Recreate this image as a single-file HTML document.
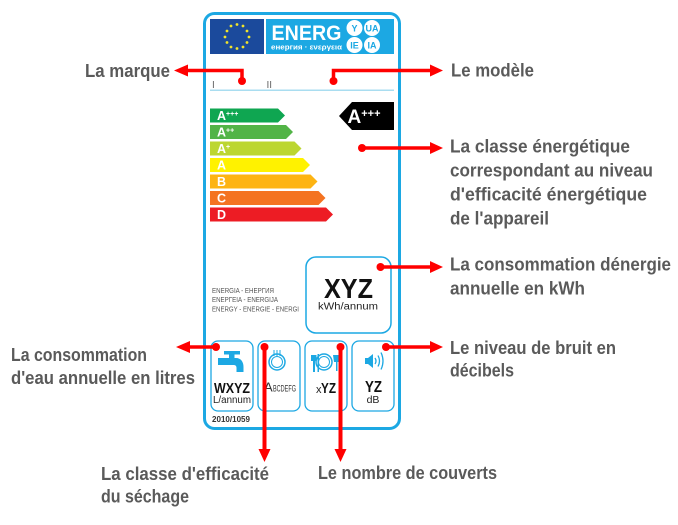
<!DOCTYPE html>
<html><head><meta charset="utf-8"><style>
html,body{margin:0;padding:0;background:#fff}svg{display:block}
.l{font-family:"Liberation Sans",sans-serif;font-weight:bold;font-size:18px;fill:#5a5a5a}
.s{font-family:"Liberation Sans",sans-serif}
</style></head><body>
<svg width="678" height="525" viewBox="0 0 678 525" xmlns="http://www.w3.org/2000/svg">
<rect x="204.5" y="13.5" width="195" height="415" rx="10" fill="#fff" stroke="#1CA8E3" stroke-width="3"/>
<rect x="210" y="19" width="54" height="35" fill="#1B4A9C"/>
<g fill="#F2E52A"><circle cx="237" cy="24.500" r="1.400"/><circle cx="243" cy="26" r="1.400"/><circle cx="247" cy="31" r="1.400"/><circle cx="249" cy="37" r="1.400"/><circle cx="247" cy="42.500" r="1.400"/><circle cx="243" cy="47" r="1.400"/><circle cx="237" cy="48.500" r="1.400"/><circle cx="231" cy="47" r="1.400"/><circle cx="227" cy="42.500" r="1.400"/><circle cx="225" cy="37" r="1.400"/><circle cx="227" cy="31" r="1.400"/><circle cx="231" cy="26" r="1.400"/></g>
<rect x="266" y="19" width="128" height="35" fill="#1CA8E3"/>
<text class="s" x="271.500" y="40" font-size="21" font-weight="bold" fill="#fff" textLength="70" lengthAdjust="spacingAndGlyphs">ENERG</text>
<text class="s" x="271" y="49.500" font-size="7" font-weight="bold" fill="#fff" textLength="71" lengthAdjust="spacingAndGlyphs">енергия · ενεργεια</text>
<g fill="#fff"><circle cx="354.500" cy="28" r="8"/><circle cx="372" cy="28" r="8"/><circle cx="354.500" cy="45" r="8"/><circle cx="372" cy="45" r="8"/></g>
<g class="s" font-size="9" font-weight="bold" fill="#1CA8E3" text-anchor="middle"><text x="354.500" y="31.500">Y</text><text x="372" y="31.500">UA</text><text x="354.500" y="48.500">IE</text><text x="372" y="48.500">IA</text></g>
<text class="s" x="212" y="88" font-size="10" fill="#666">I</text><text class="s" x="266.500" y="88" font-size="10" fill="#666">II</text>
<rect x="210" y="89.500" width="184" height="1.500" fill="#A9DDF0"/>
<g class="s" font-weight="bold" font-size="12.500" fill="#fff">
<polygon points="210,108.500 278,108.500 285,115.500 278,122.500 210,122.500" fill="#0FA651"/>
<polygon points="210,125 286,125 293,132 286,139 210,139" fill="#52B447"/>
<polygon points="210,141.500 294.500,141.500 301.500,148.500 294.500,155.500 210,155.500" fill="#BCD631"/>
<polygon points="210,158 303,158 310,165 303,172 210,172" fill="#FFF200"/>
<polygon points="210,174.500 310.500,174.500 317.500,181.500 310.500,188.500 210,188.500" fill="#FDB413"/>
<polygon points="210,191 318.500,191 325.500,198 318.500,205 210,205" fill="#F47321"/>
<polygon points="210,207.500 326,207.500 333,214.500 326,221.500 210,221.500" fill="#ED1C24"/>
<text x="217" y="120">A<tspan font-size="7" dy="-4">+++</tspan></text>
<text x="217" y="136.500">A<tspan font-size="7" dy="-4">++</tspan></text>
<text x="217" y="153">A<tspan font-size="7" dy="-4">+</tspan></text>
<text x="217" y="169.500">A</text><text x="217" y="186">B</text><text x="217" y="202.500">C</text><text x="217" y="219">D</text>
</g>
<polygon points="339,116 352,102 394,102 394,130 352,130" fill="#000"/>
<text class="s" x="347.500" y="123" font-size="19" font-weight="bold" fill="#fff">A<tspan font-size="11" dy="-6">+++</tspan></text>
<rect x="306" y="257" width="85" height="76" rx="10" fill="#fff" stroke="#1CA8E3" stroke-width="1.500"/>
<text class="s" x="348.500" y="298" font-size="28" font-weight="bold" text-anchor="middle" fill="#111" textLength="49" lengthAdjust="spacingAndGlyphs">XYZ</text>
<text class="s" x="348" y="309.500" font-size="10" text-anchor="middle" fill="#222" textLength="60" lengthAdjust="spacingAndGlyphs">kWh/annum</text>
<g class="s" font-size="7.500" fill="#555"><text x="212" y="293" textLength="62" lengthAdjust="spacingAndGlyphs">ENERGIA - ЕНЕРГИЯ</text><text x="212" y="302" textLength="66" lengthAdjust="spacingAndGlyphs">ΕΝΕΡΓΕΙΑ - ENERGIJA</text><text x="212" y="311.500" textLength="87" lengthAdjust="spacingAndGlyphs">ENERGY - ENERGIE - ENERGI</text></g>
<g fill="#fff" stroke="#1CA8E3" stroke-width="1.300"><rect x="211" y="341" width="42" height="70" rx="7"/><rect x="258" y="341" width="42" height="70" rx="7"/><rect x="305" y="341" width="42" height="70" rx="7"/><rect x="352" y="341" width="42" height="70" rx="7"/></g>
<g fill="#1CA8E3"><rect x="224" y="351" width="16" height="3.500"/><rect x="229" y="354" width="5.500" height="5"/><path d="M218 358h18c5 0 7.500 4 7.500 9v5h-7v-4c0-2-1-3-3-3h-15.500z"/></g>
<text class="s" x="232" y="393" font-size="14.500" font-weight="bold" text-anchor="middle" fill="#111" textLength="36" lengthAdjust="spacingAndGlyphs">WXYZ</text>
<text class="s" x="232" y="403" font-size="10" text-anchor="middle" fill="#222" textLength="38" lengthAdjust="spacingAndGlyphs">L/annum</text>
<circle cx="277" cy="362" r="8" fill="none" stroke="#1CA8E3" stroke-width="1.500"/><circle cx="277" cy="362" r="5.500" fill="none" stroke="#1CA8E3"/>
<path d="M274 356v-6M277 356v-6M280 356v-6" stroke="#1CA8E3"/>
<text class="s" x="264" y="391.500" font-size="13" fill="#333">A</text><text class="s" x="273" y="391.500" font-size="9" fill="#333" textLength="23" lengthAdjust="spacingAndGlyphs">BCDEFG</text>
<g fill="none" stroke="#1CA8E3"><circle cx="324" cy="362" r="8" stroke-width="1.500"/><circle cx="324" cy="362" r="5.500"/></g>
<g fill="#1CA8E3"><rect x="311" y="355" width="5.500" height="6"/><rect x="313" y="355" width="2" height="17"/><rect x="317.500" y="354" width="1.500" height="18"/><path d="M333 355h8l-1.500 7h-2v9h-1.500v-9h-2z"/></g>
<text class="s" x="316" y="393" font-size="11" fill="#222">x</text><text class="s" x="321" y="393" font-size="15" font-weight="bold" fill="#111" textLength="15" lengthAdjust="spacingAndGlyphs">YZ</text>
<path d="M365 358h3l5-4v14l-5-4h-3z" fill="#1CA8E3"/><path d="M375 358q2 3 0 6M378 355.500q3 5.500 0 11M381 352.500q4 8.500 0 17" fill="none" stroke="#1CA8E3" stroke-width="1.300"/>
<text class="s" x="373.500" y="392" font-size="16" font-weight="bold" text-anchor="middle" fill="#111" textLength="17" lengthAdjust="spacingAndGlyphs">YZ</text>
<text class="s" x="373" y="403" font-size="10.500" text-anchor="middle" fill="#222">dB</text>
<text class="s" x="212" y="422" font-size="8" font-weight="bold" fill="#333" textLength="38" lengthAdjust="spacingAndGlyphs">2010/1059</text>
<g fill="none" stroke="#f00" stroke-width="3.500">
<path d="M184 70.500H242V81"/><path d="M333.500 81V70.500H432"/><path d="M362 148H432"/><path d="M380.500 267H432"/>
<path d="M188 347H216"/><path d="M386 347H432"/>
</g>
<g fill="none" stroke="#f00" stroke-width="4"><path d="M264.500 347V451"/><path d="M340.500 347V451"/></g>
<g fill="#f00">
<circle cx="242" cy="81" r="4"/><circle cx="333.500" cy="81" r="4"/><circle cx="362" cy="148" r="4"/><circle cx="380.500" cy="267" r="4"/><circle cx="216" cy="347" r="4"/><circle cx="264.500" cy="347" r="4"/><circle cx="340.500" cy="347" r="4"/><circle cx="386" cy="347" r="4"/>
<polygon points="174,70.500 188,64.500 188,76.500"/><polygon points="443,70.500 430,64.500 430,76.500"/><polygon points="443,148 430,142 430,154"/><polygon points="443,267 430,261 430,273"/><polygon points="176,347 190,341 190,353"/><polygon points="443,347 430,341 430,353"/><polygon points="264.500,462 258.500,449 270.500,449"/><polygon points="340.500,462 334.500,449 346.500,449"/>
</g>
<text class="l" x="85" y="77" textLength="85" lengthAdjust="spacingAndGlyphs">La marque</text>
<text class="l" x="451" y="76.700" textLength="83" lengthAdjust="spacingAndGlyphs">Le modèle</text>
<text class="l" x="450" y="152.700" textLength="180" lengthAdjust="spacingAndGlyphs">La classe énergétique</text>
<text class="l" x="450" y="176.700" textLength="203" lengthAdjust="spacingAndGlyphs">correspondant au niveau</text>
<text class="l" x="450" y="200.700" textLength="197" lengthAdjust="spacingAndGlyphs">d'efficacité énergétique</text>
<text class="l" x="450" y="224.700" textLength="99" lengthAdjust="spacingAndGlyphs">de l'appareil</text>
<text class="l" x="450" y="270.700" textLength="221" lengthAdjust="spacingAndGlyphs">La consommation dénergie</text>
<text class="l" x="450" y="294.700" textLength="135" lengthAdjust="spacingAndGlyphs">annuelle en kWh</text>
<text class="l" x="450" y="354" textLength="166" lengthAdjust="spacingAndGlyphs">Le niveau de bruit en</text>
<text class="l" x="450" y="376.700" textLength="64" lengthAdjust="spacingAndGlyphs">décibels</text>
<text class="l" x="11" y="361" textLength="136" lengthAdjust="spacingAndGlyphs">La consommation</text>
<text class="l" x="11" y="384" textLength="184" lengthAdjust="spacingAndGlyphs">d'eau annuelle en litres</text>
<text class="l" x="101" y="480" textLength="168" lengthAdjust="spacingAndGlyphs">La classe d'efficacité</text>
<text class="l" x="101" y="502.700" textLength="88" lengthAdjust="spacingAndGlyphs">du séchage</text>
<text class="l" x="318" y="479" textLength="179" lengthAdjust="spacingAndGlyphs">Le nombre de couverts</text>
</svg>
</body></html>
